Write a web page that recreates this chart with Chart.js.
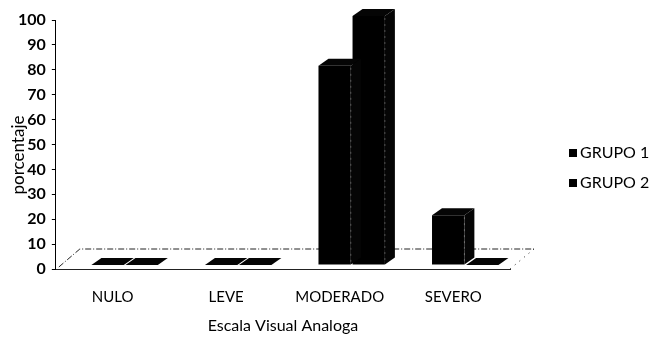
<!DOCTYPE html>
<html>
<head>
<meta charset="utf-8">
<script src="https://cdn.jsdelivr.net/npm/chart.js@4/dist/chart.umd.min.js"></script>
<style>
  html, body { margin: 0; padding: 0; background: #fff; }
  #wrap { width: 654px; height: 343px; }
</style>
</head>
<body>
<div id="wrap"><canvas id="c" width="654" height="343"></canvas></div>
<script>
// Categories and percentages per group
const categories = ['NULO', 'LEVE', 'MODERADO', 'SEVERO'];
const grupo1 = [0, 0, 80, 20];
const grupo2 = [0, 0, 100, 0];
const seriesNames = ['GRUPO 1', 'GRUPO 2'];
const yTicks = [0, 10, 20, 30, 40, 50, 60, 70, 80, 90, 100];
const xTitle = 'Escala Visual Analoga';
const yTitle = 'porcentaje';

const DEPTH_X = 10, DEPTH_Y = 7;      // bar extrusion
const FLOOR_X = 24, FLOOR_Y = 20;     // floor depth
const SHIFT_X = 12, SHIFT_Y = -4;     // bars sit partway back on the floor

// Floor under the bars, then move the bars into the floor's depth
const floorPlugin = {
  id: 'floor',
  beforeDatasetsDraw(chart) {
    const { ctx, chartArea: a, scales: { y } } = chart;
    const y0 = y.getPixelForValue(0);
    ctx.save();
    ctx.strokeStyle = '#222';
    ctx.lineWidth = 1;
    ctx.setLineDash([6, 2, 1, 2]);
    ctx.beginPath();
    ctx.moveTo(a.left + 3, y0 - 2);
    ctx.lineTo(a.left + FLOOR_X, y0 - FLOOR_Y);
    ctx.lineTo(a.right + FLOOR_X, y0 - FLOOR_Y);
    ctx.stroke();
    ctx.setLineDash([1, 5]);
    ctx.beginPath();
    ctx.moveTo(a.right + FLOOR_X, y0 - FLOOR_Y);
    ctx.lineTo(a.right, y0);
    ctx.stroke();
    ctx.restore();
    ctx.save();
    ctx.translate(SHIFT_X, SHIFT_Y);
  }
};

// Top and side faces for each bar
const extrudePlugin = {
  id: 'extrude',
  afterDatasetsDraw(chart) {
    const { ctx } = chart;
    ctx.save();
    chart.data.datasets.forEach((ds, i) => {
      const meta = chart.getDatasetMeta(i);
      meta.data.forEach(bar => {
        const p = bar.getProps(['x', 'y', 'base', 'width'], true);
        const l = p.x - p.width / 2, r = p.x + p.width / 2;
        const t = Math.min(p.y, p.base), b = p.base;
        ctx.fillStyle = '#050505';
        ctx.beginPath();
        ctx.moveTo(l, t);
        ctx.lineTo(l + DEPTH_X, t - DEPTH_Y);
        ctx.lineTo(r + DEPTH_X, t - DEPTH_Y);
        ctx.lineTo(r, t);
        ctx.closePath();
        ctx.fill();
        ctx.beginPath();
        ctx.moveTo(r, t);
        ctx.lineTo(r + DEPTH_X, t - DEPTH_Y);
        ctx.lineTo(r + DEPTH_X, b - DEPTH_Y);
        ctx.lineTo(r, b);
        ctx.closePath();
        ctx.fill();
        if (b - t > 2) {
          ctx.strokeStyle = 'rgba(255,255,255,0.35)';
          ctx.lineWidth = 0.8;
          ctx.setLineDash([2, 4]);
          ctx.beginPath();
          ctx.moveTo(r, t + 2);
          ctx.lineTo(r, b);
          ctx.stroke();
          ctx.setLineDash([]);
        }
      });
    });
    ctx.restore();
    ctx.restore(); // undo the shift set before the datasets
  }
};

// Axis titles and legend at the right
const labelsPlugin = {
  id: 'labels',
  afterDraw(chart) {
    const { ctx, chartArea: a } = chart;
    ctx.save();
    ctx.fillStyle = '#000';
    ctx.font = '17px Lato';
    ctx.textAlign = 'center';
    ctx.textBaseline = 'middle';
    ctx.translate(19, 155);
    ctx.rotate(-Math.PI / 2);
    ctx.fillText(yTitle, 0, 0);
    ctx.restore();

    ctx.save();
    ctx.fillStyle = '#000';
    ctx.font = '16px Lato';
    ctx.textAlign = 'center';
    ctx.textBaseline = 'middle';
    ctx.fillText(xTitle, (a.left + a.right) / 2, 326);
    ctx.restore();

    ctx.save();
    ctx.font = '16px Lato';
    ctx.textBaseline = 'middle';
    ctx.textAlign = 'left';
    chart.data.datasets.forEach((ds, i) => {
      const cy = 153 + i * 30;
      ctx.fillStyle = ds.backgroundColor;
      ctx.fillRect(569, cy - 4, 8, 8);
      ctx.fillStyle = '#000';
      ctx.fillText(ds.label, 580, cy);
    });
    ctx.restore();
  }
};

new Chart(document.getElementById('c'), {
  type: 'bar',
  data: {
    labels: categories,
    datasets: [
      { label: seriesNames[0], data: grupo1, backgroundColor: '#000', clip: false },
      { label: seriesNames[1], data: grupo2, backgroundColor: '#000', clip: false }
    ]
  },
  options: {
    responsive: false,
    animation: false,
    events: [],
    layout: { padding: { left: 12, right: 144, top: 20, bottom: 18 } },
    datasets: { bar: { categoryPercentage: 0.6, barPercentage: 0.95 } },
    plugins: { legend: { display: false }, tooltip: { enabled: false } },
    scales: {
      x: {
        grid: { display: false, drawTicks: false, tickLength: 0 },
        border: { display: true, color: '#222', width: 1 },
        ticks: { color: '#000', font: { family: 'Lato', size: 15 }, padding: 19 }
      },
      y: {
        min: 0, max: 100,
        afterBuildTicks(scale) { scale.ticks = yTicks.map(v => ({ value: v })); },
        grid: { drawOnChartArea: false, drawTicks: true, tickLength: 4, color: '#000' },
        border: { display: true, color: '#000', width: 1 },
        ticks: { color: '#000', font: { family: 'Lato', size: 16, weight: 'bold' }, padding: 6 }
      }
    }
  },
  plugins: [floorPlugin, extrudePlugin, labelsPlugin]
});
</script>
</body>
</html>
